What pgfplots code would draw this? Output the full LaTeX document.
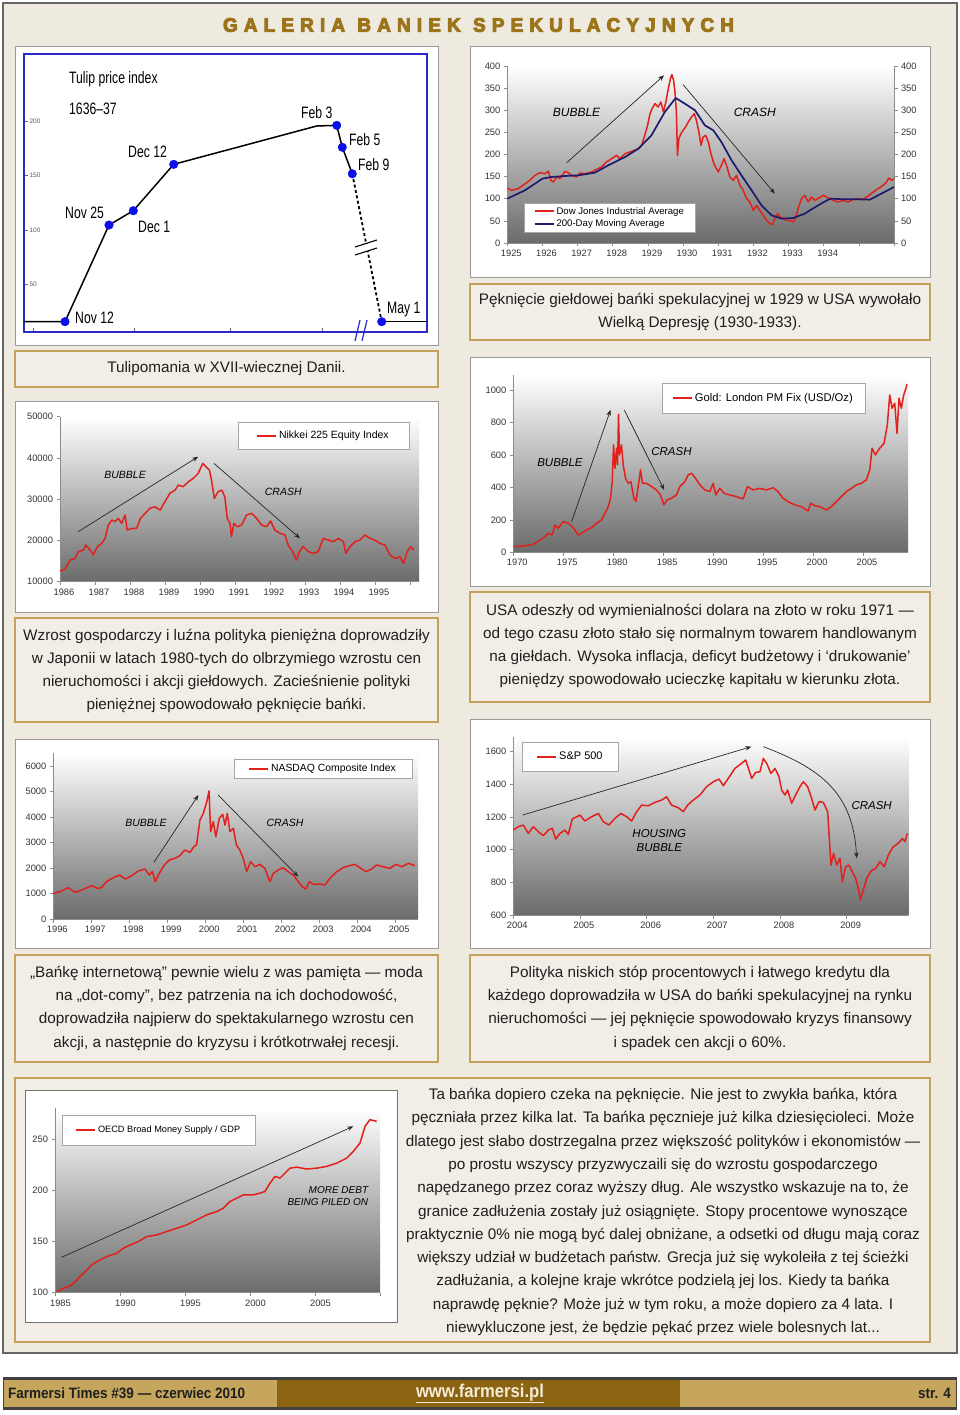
\documentclass[border=0pt]{standalone}
\usepackage{fontspec}
\setmainfont{Liberation Sans}
\newfontfamily\condfont[FakeStretch=0.9]{Liberation Sans}
\newfontfamily\narrowfont[FakeStretch=0.74]{Liberation Sans}
\newfontfamily\titlefamily[FakeStretch=0.97, FakeBold=5, BoldFeatures={FakeBold=5}]{Liberation Sans}
\usepackage{pgfplots}
\pgfplotsset{compat=1.18}
\usetikzlibrary{arrows.meta}

\definecolor{pagebeige}{HTML}{EEEAE0}
\definecolor{capfill}{HTML}{F2EEE6}
\definecolor{capborder}{HTML}{C5A25C}
\definecolor{titlegold}{HTML}{9C7419}
\definecolor{footlight}{HTML}{C6A55C}
\definecolor{footdark}{HTML}{8B6412}
\definecolor{footlink}{HTML}{F3EBD3}
\definecolor{chartred}{HTML}{E2201C}
\definecolor{navy}{HTML}{1C1C6C}
\definecolor{tulipblue}{HTML}{0A10E8}
\definecolor{tulipframe}{HTML}{2A2AC4}

\newcommand\capfont{\fontsize{15.3}{23.3}\selectfont}
\newcommand\tickfont{\fontsize{9.3}{10}\selectfont}
\newcommand\footfont{\condfont\bfseries\fontsize{15}{16}\selectfont}

\pgfplotsset{
  bchart/.style={
    scale only axis, anchor=north west,
    axis x line*=bottom, axis y line*=left,
    axis line style={black!45,line width=0.7pt},
    tick style={black!45,line width=0.6pt},
    major tick length=3.5pt, tick align=outside,
    ticklabel style={font=\tickfont, text=black!80},
    xticklabel style={xshift=4pt},
    enlargelimits=false, clip=true,
    scaled ticks=false,
    legend style={draw=black!35, fill=white, inner xsep=10pt, inner ysep=4pt, cells={anchor=west}},
    legend image code/.code={\draw[#1, line width=2pt] (0pt,0pt) -- (19pt,0pt);},
    /pgf/number format/1000 sep={},
    /pgf/number format/assume math mode=true,
  },
  redline/.style={draw=chartred, color=chartred, line width=1.5pt, no marks, line join=round},
  navyline/.style={draw=navy, color=navy, line width=1.7pt, no marks, line join=round},
}
\tikzset{
  panel/.style={fill=white, draw=black!40, line width=1pt},
  capbox/.style={fill=capfill, draw=capborder, line width=1.4pt},
  annarrow/.style={-{Stealth[length=6pt,width=4.5pt]}, black!85, line width=0.7pt},
  grad/.style={top color=white, bottom color=black!58},
}

\begin{document}
\begin{tikzpicture}
\begin{scope}[x=1pt,y=1pt]
\path[use as bounding box] (0,0) rectangle (960,-1415);
\fill[white] (0,0) rectangle (960,-1415);
\filldraw[fill=pagebeige, draw=black!60, line width=1.6pt] (3,-3) rectangle (957,-1353);

% title
\node[text=titlegold, font=\titlefamily\bfseries\fontsize{19.5}{21}\selectfont, inner sep=0] at (478.5,-25)
 {\makebox[511pt][s]{G\hfill A\hfill L\hfill E\hfill R\hfill I\hfill A\hfill\hfill B\hfill A\hfill N\hfill I\hfill E\hfill K\hfill\hfill S\hfill P\hfill E\hfill K\hfill U\hfill L\hfill A\hfill C\hfill Y\hfill J\hfill N\hfill Y\hfill C\hfill H}};

% panels and caption boxes
\draw[panel] (15,-47) rectangle (438,-345);
\draw[capbox] (15,-351) rectangle (438,-387);
\draw[panel] (470,-47) rectangle (930,-277);
\draw[capbox] (470,-284) rectangle (930,-340);
\draw[panel] (15,-401) rectangle (438,-612);
\draw[capbox] (15,-618) rectangle (438,-722);
\draw[panel] (470,-357) rectangle (930,-586);
\draw[capbox] (470,-592) rectangle (930,-702);
\draw[panel] (15,-739) rectangle (438,-948);
\draw[panel] (470,-719) rectangle (930,-948);
\draw[capbox] (15,-955) rectangle (438,-1062);
\draw[capbox] (470,-955) rectangle (930,-1062);
\draw[capbox] (15,-1078) rectangle (930,-1342);
\draw[fill=white, draw=black!55, line width=1pt] (25,-1090) rectangle (397,-1322);

% plot-area gradients
\shade[grad] (507.3,-66) rectangle (894,-243);
\shade[grad] (60,-416.7) rectangle (419,-581.7);
\shade[grad] (513.3,-375) rectangle (908,-552.3);
\shade[grad] (53.3,-753.3) rectangle (418,-919);
\shade[grad] (513.3,-736.7) rectangle (908.3,-915);
\shade[grad] (55,-1108.3) rectangle (380,-1292.7);
\fill[white] (24,-54) rectangle (427,-332);

% captions
\begin{scope}[every node/.style={font=\capfont, text=black!88, align=center, inner sep=0}]
\node at (226.5,-369) {Tulipomania w XVII-wiecznej Danii.};
\node at (700,-312) {Pęknięcie giełdowej bańki spekulacyjnej w 1929 w USA wywołało\\Wielką Depresję (1930-1933).};
\node at (226.5,-671) {Wzrost gospodarczy i luźna polityka pieniężna doprowadziły\\w Japonii w latach 1980-tych do olbrzymiego wzrostu cen\\nieruchomości i akcji giełdowych. Zacieśnienie polityki\\pieniężnej spowodowało pęknięcie bańki.};
\node at (700,-646) {USA odeszły od wymienialności dolara na złoto w roku 1971 —\\od tego czasu złoto stało się normalnym towarem handlowanym\\na giełdach. Wysoka inflacja, deficyt budżetowy i ‘drukowanie’\\pieniędzy spowodowało ucieczkę kapitału w kierunku złota.};
\node at (226.5,-1008) {„Bańkę internetową” pewnie wielu z was pamięta — moda\\na „dot-comy”, bez patrzenia na ich dochodowość,\\doprowadziła najpierw do spektakularnego wzrostu cen\\akcji, a następnie do kryzysu i krótkotrwałej recesji.};
\node at (700,-1008) {Polityka niskich stóp procentowych i łatwego kredytu dla\\każdego doprowadziła w USA do bańki spekulacyjnej na rynku\\nieruchomości — jej pęknięcie spowodowało kryzys finansowy\\i spadek cen akcji o 60\%.};
\node at (663,-1212) {Ta bańka dopiero czeka na pęknięcie. Nie jest to zwykła bańka, która\\pęczniała przez kilka lat. Ta bańka pęcznieje już kilka dziesięcioleci. Może\\dlatego jest słabo dostrzegalna przez większość polityków i ekonomistów —\\po prostu wszyscy przyzwyczaili się do wzrostu gospodarczego\\napędzanego przez coraz wyższy dług. Ale wszystko wskazuje na to, że\\granice zadłużenia zostały już osiągnięte. Stopy procentowe wynoszące\\praktycznie 0\% nie mogą być dalej obniżane, a odsetki od długu mają coraz\\większy udział w budżetach państw. Grecja już się wykoleiła z tej ścieżki\\zadłużania, a kolejne kraje wkrótce podzielą jej los. Kiedy ta bańka\\naprawdę pęknie? Może już w tym roku, a może dopiero za 4 lata. I\\niewykluczone jest, że będzie pękać przez wiele bolesnych lat...};
\end{scope}
\end{scope}

% ---------------- Tulip chart
\begin{axis}[scale only axis, anchor=north west, at={(24pt,-54pt)}, width=403pt, height=278pt,
  xmin=24, xmax=427, ymin=6, ymax=262,
  axis line style={tulipframe, line width=1.3pt},
  tick align=inside, major tick length=4pt,
  tick style={black!60, line width=0.6pt},
  xtick={33.3,134,230.7,322.3}, xticklabels={}, xtick pos=bottom,
  ytick={50,100,150,200}, ytick pos=left,
  yticklabel style={anchor=west, xshift=2pt, font=\fontsize{6.5}{7}\selectfont, text=black!65},
  /pgf/number format/assume math mode=true,
  clip=false]
\addplot[black, line width=1.5pt, no marks] coordinates {(24,15.5) (65,15.5) (109,104.5) (133.3,117.7) (173.7,160.4) (316.7,195.7) (336.7,196.3) (342.3,176.1) (352.3,151.7)};
\addplot[black, line width=1.8pt, no marks, dash pattern=on 3pt off 2.5pt] coordinates {(352.3,151.7) (381.7,15.5)};
\addplot[black, line width=1.5pt, no marks] coordinates {(381.7,15.5) (427,15.5)};
\addplot[only marks, mark=*, mark size=4.3pt, color=tulipblue] coordinates {(65,15.5) (109,104.5) (133.3,117.7) (173.7,160.4) (336.7,196.3) (342.3,176.1) (352.3,151.7) (381.7,15.5)};
\end{axis}

% ---------------- Dow Jones
\begin{axis}[bchart, at={(507.3pt,-66pt)}, width=386.7pt, height=177pt,
  xmin=1925, xmax=1936, ymin=0, ymax=400,
  xtick={1925,...,1936}, xticklabels={1925,1926,1927,1928,1929,1930,1931,1932,1933,1934,{},{}},
  ytick={0,50,...,400},
  legend style={at={(0.044,0.06)}, anchor=south west, inner xsep=9pt, inner ysep=2pt, font=\fontsize{9.6}{12}\selectfont}]
\addplot[redline] coordinates {(1925.00,124.3) (1925.12,119.0) (1925.31,122.8) (1925.45,130.3) (1925.64,141.6) (1925.79,152.9) (1925.93,158.9) (1926.07,156.7) (1926.17,162.0) (1926.24,141.6) (1926.31,137.9) (1926.40,149.2) (1926.50,145.4) (1926.64,162.0) (1926.73,158.9) (1926.83,152.9) (1926.97,149.2) (1927.07,158.2) (1927.21,156.7) (1927.40,160.5) (1927.54,166.5) (1927.68,171.8) (1927.82,183.1) (1927.97,190.6) (1928.11,198.1) (1928.20,190.6) (1928.35,201.9) (1928.54,207.2) (1928.73,213.2) (1928.82,220.7) (1928.91,243.3) (1928.99,265.9) (1929.06,292.3) (1929.12,303.6) (1929.20,314.9) (1929.29,307.3) (1929.37,318.6) (1929.44,296.0) (1929.51,318.6) (1929.58,348.8) (1929.64,371.4) (1929.68,380.4) (1929.73,367.6) (1929.77,341.2) (1929.81,296.0) (1929.84,198.1) (1929.88,235.8) (1929.94,247.1) (1930.00,254.6) (1930.07,262.2) (1930.15,273.5) (1930.24,284.7) (1930.32,292.3) (1930.38,277.2) (1930.45,250.8) (1930.51,220.7) (1930.57,239.5) (1930.64,243.3) (1930.72,228.3) (1930.78,205.6) (1930.86,183.1) (1930.92,171.8) (1931.00,160.5) (1931.09,175.5) (1931.17,190.6) (1931.25,171.8) (1931.33,149.2) (1931.43,141.6) (1931.52,152.9) (1931.62,130.3) (1931.71,119.0) (1931.81,100.2) (1931.90,92.7) (1932.00,73.8) (1932.09,85.1) (1932.18,73.8) (1932.28,62.5) (1932.37,51.2) (1932.47,43.7) (1932.54,41.4) (1932.61,55.0) (1932.69,66.3) (1932.76,58.8) (1932.85,55.0) (1932.94,51.2) (1933.04,51.2) (1933.13,47.5) (1933.20,55.0) (1933.27,77.6) (1933.37,100.2) (1933.46,107.7) (1933.56,92.7) (1933.65,104.0) (1933.75,96.4) (1933.86,101.7) (1933.99,107.7) (1934.13,101.7) (1934.27,96.4) (1934.41,92.7) (1934.55,96.4) (1934.70,92.7) (1934.84,98.7) (1934.98,100.2) (1935.12,98.7) (1935.27,106.2) (1935.41,115.3) (1935.55,122.8) (1935.69,130.3) (1935.79,137.9) (1935.85,146.9) (1935.93,141.6) (1936.00,145.4)};
\addplot[navyline] coordinates {(1925.00,100.2) (1925.50,119.0) (1926.00,145.4) (1926.26,149.2) (1926.64,151.4) (1927.02,152.9) (1927.49,158.9) (1927.87,175.5) (1928.35,194.3) (1928.73,213.2) (1929.10,243.3) (1929.48,296.0) (1929.79,327.7) (1930.05,314.9) (1930.34,299.8) (1930.62,265.9) (1930.86,254.6) (1931.09,228.3) (1931.38,186.8) (1931.66,152.9) (1931.95,119.0) (1932.23,85.1) (1932.52,62.5) (1932.80,55.0) (1933.13,56.5) (1933.46,66.3) (1933.84,85.1) (1934.18,100.2) (1934.60,98.7) (1934.98,98.7) (1935.31,97.9) (1935.64,111.5) (1936.00,126.6)};
\legend{Dow Jones Industrial Average, 200-Day Moving Average}
\draw[annarrow] (axis cs:1926.69,181.5) -- (axis cs:1929.46,379);
\draw[annarrow] (axis cs:1930.0,358) -- (axis cs:1932.61,111.5);
\node[font=\fontsize{12}{14}\selectfont\itshape] at (axis cs:1926.97,296) {BUBBLE};
\node[font=\fontsize{12}{14}\selectfont\itshape] at (axis cs:1932.04,296) {CRASH};
\end{axis}
\begin{axis}[bchart, at={(507.3pt,-66pt)}, width=386.7pt, height=177pt,
  xmin=1925, xmax=1936, ymin=0, ymax=400, axis x line=none, axis y line*=right,
  ytick={0,50,...,400}]
\addplot[draw=none, no marks] coordinates {(1925,0) (1936,400)};
\end{axis}

% ---------------- Nikkei
\begin{axis}[bchart, at={(60pt,-416.7pt)}, width=359pt, height=165pt,
  xmin=1986, xmax=1996.26, ymin=10000, ymax=50000,
  xtick={1986,...,1996}, xticklabels={1986,1987,1988,1989,1990,1991,1992,1993,1994,1995,{}},
  ytick={10000,20000,...,50000},
  legend style={at={(0.972,0.968)}, anchor=north east, inner xsep=18pt, inner ysep=7pt, font=\fontsize{10.5}{12}\selectfont}]
\addplot[redline] coordinates {(1986.00,12586) (1986.14,13071) (1986.29,15253) (1986.43,15657) (1986.52,17273) (1986.67,17677) (1986.74,18889) (1986.86,17677) (1986.95,16465) (1987.07,18485) (1987.19,19293) (1987.29,20505) (1987.38,23738) (1987.48,24950) (1987.57,24546) (1987.67,25354) (1987.76,24142) (1987.86,26162) (1987.92,22525) (1988.05,22929) (1988.19,22929) (1988.30,25354) (1988.43,26566) (1988.57,27778) (1988.71,28182) (1988.86,27374) (1989.00,29394) (1989.14,31414) (1989.29,32222) (1989.38,33434) (1989.52,33030) (1989.67,34242) (1989.81,35050) (1989.95,36263) (1990.08,38687) (1990.17,37879) (1990.27,37071) (1990.33,34646) (1990.41,30202) (1990.52,31818) (1990.62,32222) (1990.71,30606) (1990.78,25354) (1990.86,24142) (1990.90,20909) (1990.97,24142) (1991.07,23333) (1991.19,23738) (1991.33,26162) (1991.48,26566) (1991.62,25354) (1991.76,23738) (1991.90,23333) (1992.02,24707) (1992.14,22525) (1992.29,21717) (1992.43,21313) (1992.52,18889) (1992.65,17273) (1992.76,15253) (1992.84,17273) (1992.95,18485) (1993.10,17273) (1993.24,16869) (1993.38,17273) (1993.52,20505) (1993.67,20101) (1993.81,19697) (1993.95,20505) (1994.10,19697) (1994.17,16869) (1994.29,18485) (1994.43,19697) (1994.57,20101) (1994.71,21313) (1994.86,20505) (1995.00,20101) (1995.14,19293) (1995.29,18889) (1995.43,16465) (1995.57,15657) (1995.71,16061) (1995.82,14444) (1995.92,17273) (1996.02,18485) (1996.11,17677)};
\legend{Nikkei 225 Equity Index}
\draw[annarrow] (axis cs:1986.52,22121) -- (axis cs:1989.95,40303);
\draw[annarrow] (axis cs:1990.4,38687) -- (axis cs:1992.86,20505);
\node[font=\fontsize{10.5}{12}\selectfont\itshape] at (axis cs:1987.86,35859) {BUBBLE};
\node[font=\fontsize{10.5}{12}\selectfont\itshape] at (axis cs:1992.38,31818) {CRASH};
\end{axis}

% ---------------- Gold
\begin{axis}[bchart, at={(513.3pt,-375pt)}, width=394.7pt, height=177.3pt,
  xmin=1970, xmax=2009.5, ymin=0, ymax=1092,
  xtick={1970,1975,...,2005}, ytick={0,200,...,1000},
  legend style={at={(0.891,0.955)}, anchor=north east, inner xsep=10pt, inner ysep=8pt, font=\fontsize{11.2}{13}\selectfont}]
\addplot[redline] coordinates {(1970.00,35) (1971.00,39) (1972.00,49) (1972.67,76) (1973.17,97) (1973.50,117) (1973.90,107) (1974.17,168) (1974.50,148) (1975.00,189) (1975.50,179) (1976.00,152) (1976.50,107) (1976.83,117) (1977.33,138) (1977.83,152) (1978.33,179) (1978.83,199) (1979.17,240) (1979.50,281) (1979.73,333) (1979.90,435) (1980.03,661) (1980.17,517) (1980.33,641) (1980.43,538) (1980.53,850) (1980.63,600) (1980.83,661) (1981.00,538) (1981.23,456) (1981.50,425) (1981.77,435) (1982.07,333) (1982.27,312) (1982.50,405) (1982.73,507) (1982.93,425) (1983.33,425) (1983.83,405) (1984.33,384) (1984.73,353) (1985.07,292) (1985.40,322) (1985.83,333) (1986.33,353) (1986.67,405) (1987.17,435) (1987.50,476) (1987.83,487) (1988.23,456) (1988.67,415) (1989.17,384) (1989.67,374) (1990.00,425) (1990.27,353) (1990.67,394) (1991.10,363) (1991.67,353) (1992.33,343) (1993.00,329) (1993.43,405) (1994.00,384) (1994.67,394) (1995.33,384) (1996.00,398) (1996.50,374) (1997.00,333) (1997.50,312) (1998.17,292) (1998.83,281) (1999.50,255) (1999.77,302) (2000.17,287) (2000.67,281) (2001.33,261) (2001.83,281) (2002.33,312) (2002.83,343) (2003.33,374) (2003.83,394) (2004.33,415) (2004.83,425) (2005.33,446) (2005.67,507) (2005.90,641) (2006.23,600) (2006.67,641) (2007.10,671) (2007.43,784) (2007.67,969) (2007.90,887) (2008.17,918) (2008.40,733) (2008.60,949) (2008.83,887) (2009.07,969) (2009.30,1010) (2009.40,1035)};
\legend{Gold: London PM Fix (USD/Oz)}
\draw[annarrow] (axis cs:1975.83,189) -- (axis cs:1979.73,877);
\draw[annarrow] (axis cs:1981.1,877) -- (axis cs:1985.1,384);
\node[font=\fontsize{11.5}{13}\selectfont\itshape] at (axis cs:1974.67,554) {BUBBLE};
\node[font=\fontsize{11.5}{13}\selectfont\itshape] at (axis cs:1985.83,620) {CRASH};
\end{axis}

% ---------------- NASDAQ
\begin{axis}[bchart, at={(53.3pt,-753.3pt)}, width=364.7pt, height=165.7pt,
  xmin=1996, xmax=2005.6, ymin=0, ymax=6500,
  xtick={1996,...,2005}, ytick={0,1000,...,6000},
  legend style={at={(0.984,0.966)}, anchor=north east, inner xsep=14pt, inner ysep=3pt, font=\fontsize{10.4}{12}\selectfont}]
\addplot[redline] coordinates {(1996.00,1007) (1996.18,1072) (1996.39,1229) (1996.57,1046) (1996.75,1137) (1997.01,1307) (1997.16,1203) (1997.27,1229) (1997.40,1464) (1997.58,1621) (1997.75,1725) (1997.89,1569) (1998.02,1660) (1998.24,1882) (1998.41,1961) (1998.53,1725) (1998.61,1856) (1998.68,1464) (1998.79,1791) (1998.91,2092) (1999.05,2314) (1999.20,2379) (1999.33,2484) (1999.46,2706) (1999.60,2614) (1999.70,2837) (1999.77,2902) (1999.86,3882) (1999.95,4144) (2000.04,4601) (2000.10,5020) (2000.14,3425) (2000.21,3817) (2000.28,3229) (2000.37,3948) (2000.46,4105) (2000.52,3686) (2000.58,4144) (2000.65,3425) (2000.74,3556) (2000.82,2902) (2000.91,2706) (2001.00,2379) (2001.09,1856) (2001.19,2248) (2001.31,2052) (2001.44,2144) (2001.57,1987) (2001.70,1464) (2001.79,1791) (2001.92,1922) (2002.05,2013) (2002.18,1856) (2002.32,1725) (2002.45,1464) (2002.56,1268) (2002.65,1176) (2002.74,1464) (2002.86,1359) (2003.02,1373) (2003.15,1333) (2003.28,1595) (2003.46,1856) (2003.63,2013) (2003.79,2092) (2003.94,2144) (2004.07,2013) (2004.23,1856) (2004.38,1961) (2004.51,2118) (2004.68,2052) (2004.86,1987) (2005.02,2144) (2005.17,2052) (2005.35,2183) (2005.52,2092)};
\legend{NASDAQ Composite Index}
\draw[annarrow] (axis cs:1998.65,2222) -- (axis cs:1999.82,4863);
\draw[annarrow] (axis cs:2000.34,4863) -- (axis cs:2002.45,1660);
\node[font=\fontsize{10.5}{12}\selectfont\itshape] at (axis cs:1998.44,3752) {BUBBLE};
\node[font=\fontsize{10.5}{12}\selectfont\itshape] at (axis cs:2002.1,3752) {CRASH};
\end{axis}

% ---------------- S&P 500
\begin{axis}[bchart, at={(513.3pt,-736.7pt)}, width=395pt, height=178.3pt,
  xmin=2004, xmax=2009.925, ymin=600, ymax=1692,
  xtick={2004,...,2009}, ytick={600,800,...,1600},
  legend style={at={(0.022,0.97)}, anchor=north west, inner xsep=14pt, inner ysep=8pt, font=\fontsize{11}{13}\selectfont}]
\addplot[redline] coordinates {(2004.000,1120) (2004.075,1141) (2004.150,1151) (2004.225,1100) (2004.300,1141) (2004.375,1110) (2004.450,1086) (2004.525,1120) (2004.585,1131) (2004.635,1065) (2004.700,1100) (2004.775,1120) (2004.825,1094) (2004.885,1188) (2005.000,1212) (2005.075,1176) (2005.175,1202) (2005.275,1222) (2005.350,1171) (2005.435,1151) (2005.525,1192) (2005.615,1222) (2005.700,1202) (2005.775,1176) (2005.850,1233) (2005.925,1273) (2006.025,1269) (2006.125,1290) (2006.225,1304) (2006.300,1324) (2006.375,1273) (2006.475,1257) (2006.550,1233) (2006.615,1273) (2006.700,1304) (2006.800,1335) (2006.900,1386) (2007.000,1416) (2007.085,1433) (2007.150,1392) (2007.225,1437) (2007.325,1498) (2007.425,1529) (2007.485,1549) (2007.535,1488) (2007.575,1437) (2007.635,1473) (2007.700,1478) (2007.750,1559) (2007.800,1529) (2007.865,1467) (2007.925,1498) (2007.985,1447) (2008.025,1365) (2008.075,1335) (2008.115,1365) (2008.175,1284) (2008.235,1335) (2008.300,1386) (2008.350,1416) (2008.415,1386) (2008.475,1314) (2008.525,1243) (2008.585,1294) (2008.650,1290) (2008.715,1233) (2008.765,906) (2008.805,978) (2008.850,906) (2008.900,947) (2008.935,804) (2008.985,896) (2009.035,906) (2009.085,865) (2009.135,824) (2009.175,763) (2009.205,692) (2009.250,753) (2009.300,824) (2009.365,869) (2009.435,886) (2009.500,927) (2009.565,896) (2009.625,967) (2009.700,1018) (2009.775,1039) (2009.835,1069) (2009.875,1049) (2009.910,1100)};
\legend{S\&P 500}
\draw[annarrow] (axis cs:2004.14,1212) -- (axis cs:2007.57,1631);
\draw[annarrow] (axis cs:2007.75,1631) .. controls (axis cs:2008.6,1500) and (axis cs:2009.1,1350) .. (axis cs:2009.15,947);
\node[font=\fontsize{11.5}{14}\selectfont\itshape, align=center] at (axis cs:2006.19,1059) {HOUSING\\BUBBLE};
\node[font=\fontsize{11.5}{13}\selectfont\itshape] at (axis cs:2009.375,1273) {CRASH};
\end{axis}

% ---------------- OECD
\begin{axis}[bchart, at={(55pt,-1108.3pt)}, width=325pt, height=184.4pt,
  xmin=1985, xmax=2010, ymin=100, ymax=280,
  xtick={1985,1990,...,2010}, xticklabels={1985,1990,1995,2000,2005,{}},
  xticklabel style={xshift=1.5pt},
  ytick={100,150,200,250},
  legend style={at={(0.021,0.964)}, anchor=north west, inner xsep=13pt, inner ysep=9pt, font=\fontsize{9.2}{11}\selectfont}]
\addplot[redline] coordinates {(1985.13,101.0) (1985.64,104.2) (1986.28,107.5) (1986.67,112.4) (1987.31,120.5) (1987.82,127.1) (1988.21,130.3) (1988.97,135.2) (1989.74,138.5) (1990.26,143.4) (1990.77,146.6) (1991.41,149.9) (1992.05,154.8) (1992.82,156.4) (1993.59,159.7) (1994.36,162.9) (1995.13,166.2) (1995.90,171.1) (1996.67,176.0) (1997.44,179.2) (1997.95,182.5) (1998.46,189.0) (1998.97,192.3) (1999.49,195.5) (2000.26,195.5) (2000.77,197.2) (2001.15,198.8) (2001.54,207.0) (2001.92,213.5) (2002.31,211.9) (2002.69,216.7) (2003.08,221.6) (2003.59,222.6) (2004.36,220.7) (2005.13,221.6) (2005.90,223.3) (2006.67,226.5) (2007.44,231.4) (2007.95,237.9) (2008.46,246.1) (2008.85,262.4) (2009.23,268.9) (2009.74,267.3)};
\legend{OECD Broad Money Supply / GDP}
\draw[annarrow] (axis cs:1985.51,134.6) -- (axis cs:2007.95,262.4);
\node[font=\fontsize{10}{12}\selectfont\itshape, align=right, anchor=east] at (axis cs:2009.36,194.7) {MORE DEBT\\BEING PILED ON};
\end{axis}

\begin{scope}[x=1pt,y=1pt]
\fill[white] (355,-247) -- (377,-240) -- (377,-248) -- (355,-255) -- cycle;
\draw[black, line width=1.1pt] (355,-247) -- (377,-240) (355,-255) -- (377,-248);
\draw[tulipframe, line width=1.2pt] (355,-341) -- (360,-320) (362,-341) -- (367,-320);
\begin{scope}[every node/.style={anchor=west, inner sep=0, font=\narrowfont\fontsize{16.5}{19}\selectfont}]
\node at (69,-79) {Tulip price index};
\node at (69,-109) {1636–37};
\node at (75,-318) {Nov 12};
\node at (65,-213) {Nov 25};
\node at (138,-227) {Dec 1};
\node at (128,-152) {Dec 12};
\node at (301,-113) {Feb 3};
\node at (349,-140) {Feb 5};
\node at (358,-165) {Feb 9};
\node at (387,-310) {May 1};
\end{scope}

% footer
\fill[black!75] (3,-1377) rectangle (957,-1409.5);
\fill[footlight] (4,-1379.5) rectangle (277,-1407);
\fill[footdark] (277,-1379.5) rectangle (680,-1407);
\fill[footlight] (680,-1379.5) rectangle (956,-1407);
\node[anchor=west, font=\footfont, text=black!88, inner sep=0] at (8,-1393.5) {Farmersi Times \#39 — czerwiec 2010};
\node[font=\condfont\bfseries\fontsize{18.5}{20}\selectfont, text=footlink, inner sep=0] at (480,-1393.5) {\underline{www.farmersi.pl}};
\node[anchor=east, font=\footfont, text=black!88, inner sep=0] at (951,-1393.5) {str. 4};
\end{scope}
\end{tikzpicture}
\end{document}
